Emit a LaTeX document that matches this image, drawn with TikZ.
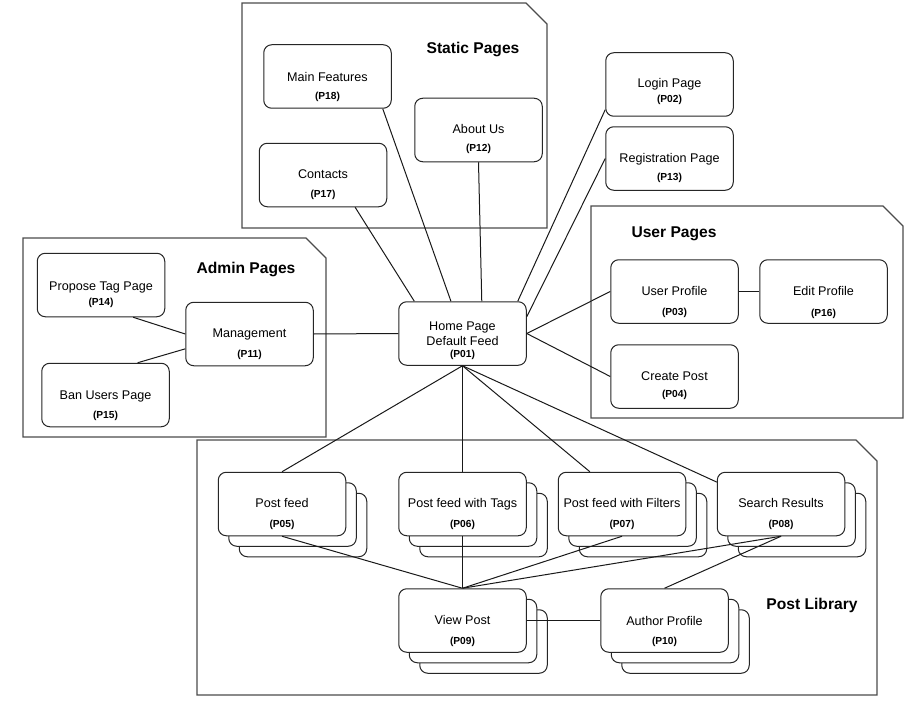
\documentclass[tikz,border=0pt]{standalone}
\usepackage{fontspec}
\setmainfont{Liberation Sans}
\usetikzlibrary{calc}
\tikzset{
  pagebox/.style={draw=black!85, fill=white, rounded corners=6pt, line width=0.75pt,
    minimum width={127.5*0.75pt}, minimum height={63.5*0.75pt}, inner sep=0pt},
  maintext/.style={font=\fontsize{9.45}{11}\selectfont, text height=6.8pt, text depth=0pt, inner sep=0pt},
  idtext/.style={font=\bfseries\fontsize{7.65}{9}\selectfont, text height=5.5pt, text depth=0pt, inner sep=0pt},
  grouptitle/.style={font=\bfseries\fontsize{11.7}{14}\selectfont, text height=8.4pt, text depth=0pt, inner sep=0pt},
  groupbox/.style={draw=black!70, line width=0.9pt, fill=white},
  link/.style={draw=black!90, line width=0.75pt},
}
% name, cx, cy, main text, text y, id, id y
\newcommand\pagenode[7]{%
  \node[pagebox] (#1) at (#2,#3) {};
  \node[maintext] (#1-t) at (#2,#5) {#4};
  \node[idtext] (#1-i) at (#2,#7) {#6};
}
\newcommand\stackpage[7]{%
  \node[pagebox] (#1-b2) at ({#2+21},{#3+21}) {};
  \node[pagebox] (#1-b1) at ({#2+10.5},{#3+10.5}) {};
  \pagenode{#1}{#2}{#3}{#4}{#5}{#6}{#7}%
}
% x1, y1, x2, y2, cut
\newcommand\groupframe[5]{%
  \draw[groupbox] (#1,#2) -- ({#3-#5},#2) -- (#3,{#2+#5}) -- (#3,#4) -- (#1,#4) -- cycle;
}
\begin{document}
\begin{tikzpicture}[x=0.75pt,y=-0.75pt]
\useasboundingbox (0,0) rectangle (914,710);

% group frames
\groupframe{242}{3}{547}{228}{21}
\groupframe{23}{238}{326}{437}{20}
\groupframe{591}{206}{903}{418}{20}
\groupframe{197}{440}{877}{695}{21}

\node[grouptitle] (t-static) at (473,48) {Static Pages};
\node[grouptitle] (t-admin) at (246,268) {Admin Pages};
\node[grouptitle] (t-user) at (674,232) {User Pages};
\node[grouptitle] (t-lib) at (812,604) {Post Library};

% static pages
\pagenode{mainfeat}{327.5}{76.5}{Main Features}{77}{(P18)}{96}
\pagenode{about}{478.5}{130}{About Us}{129}{(P12)}{148}
\pagenode{contacts}{323}{175}{Contacts}{174}{(P17)}{194}

% login / registration
\pagenode{login}{669.5}{84.5}{Login Page}{83}{(P02)}{99}
\pagenode{reg}{669.5}{158.5}{Registration Page}{158}{(P13)}{177}

% home
\node[pagebox] (home) at (462.5,333.5) {};
\node[maintext] (home-t1) at (462.5,326) {Home Page};
\node[maintext] (home-t2) at (462.5,341) {Default Feed};
\node[idtext] (home-i) at (462.5,354) {(P01)};

% user pages
\pagenode{userprof}{674.5}{291.5}{User Profile}{291}{(P03)}{312}
\pagenode{editprof}{823.5}{291.5}{Edit Profile}{291}{(P16)}{313}
\pagenode{createpost}{674.5}{376.5}{Create Post}{376}{(P04)}{394}

% admin pages
\pagenode{propose}{101}{285}{Propose Tag Page}{286}{(P14)}{302}
\pagenode{mgmt}{249.5}{334}{Management}{333}{(P11)}{354}
\pagenode{ban}{105.5}{395}{Ban Users Page}{395}{(P15)}{415}

% post library
\stackpage{postfeed}{282}{504}{Post feed}{503}{(P05)}{524}
\stackpage{tags}{462.5}{504}{Post feed with Tags}{503}{(P06)}{524}
\stackpage{filters}{622}{504}{Post feed with Filters}{503}{(P07)}{524}
\stackpage{search}{781}{504}{Search Results}{503}{(P08)}{524}
\stackpage{view}{462.5}{620.5}{View Post}{620}{(P09)}{641}
\stackpage{author}{664.5}{620.5}{Author Profile}{621}{(P10)}{641}

% connectors
\draw[link] (mgmt.east) -- (home.west);
\draw[link] ($(propose.south west)!0.75!(propose.south east)$) -- (mgmt.west);
\draw[link] ($(ban.north west)!0.75!(ban.north east)$) -- ($(mgmt.north west)!0.73!(mgmt.south west)$);
\draw[link] ($(contacts.south west)!0.75!(contacts.south east)$) -- ($(home.north west)!0.125!(home.north east)$);
\draw[link] ($(mainfeat.south west)!0.93!(mainfeat.south east)$) -- ($(home.north west)!0.41!(home.north east)$);
\draw[link] (about.south) -- ($(home.north west)!0.65!(home.north east)$);
\draw[link] ($(login.north west)!0.89!(login.south west)$) -- ($(home.north west)!0.93!(home.north east)$);
\draw[link] (reg.west) -- ($(home.north east)!0.24!(home.south east)$);
\draw[link] (home.east) -- (userprof.west);
\draw[link] (home.east) -- (createpost.west);
\draw[link] (userprof.east) -- (editprof.west);

\draw[link] (home.south) -- (postfeed.north);
\draw[link] (home.south) -- (tags.north);
\draw[link] (home.south) -- ($(filters.north west)!0.25!(filters.north east)$);
\draw[link] (home.south) -- ($(search.north west)!0.16!(search.south west)$);

\draw[link] (postfeed.south) -- (view.north);
\draw[link] (tags.south) -- (view.north);
\draw[link] (filters.south) -- (view.north);
\draw[link] (search.south) -- (view.north);
\draw[link] (search.south) -- (author.north);
\draw[link] (view.east) -- (author.west);
\end{tikzpicture}
\end{document}
